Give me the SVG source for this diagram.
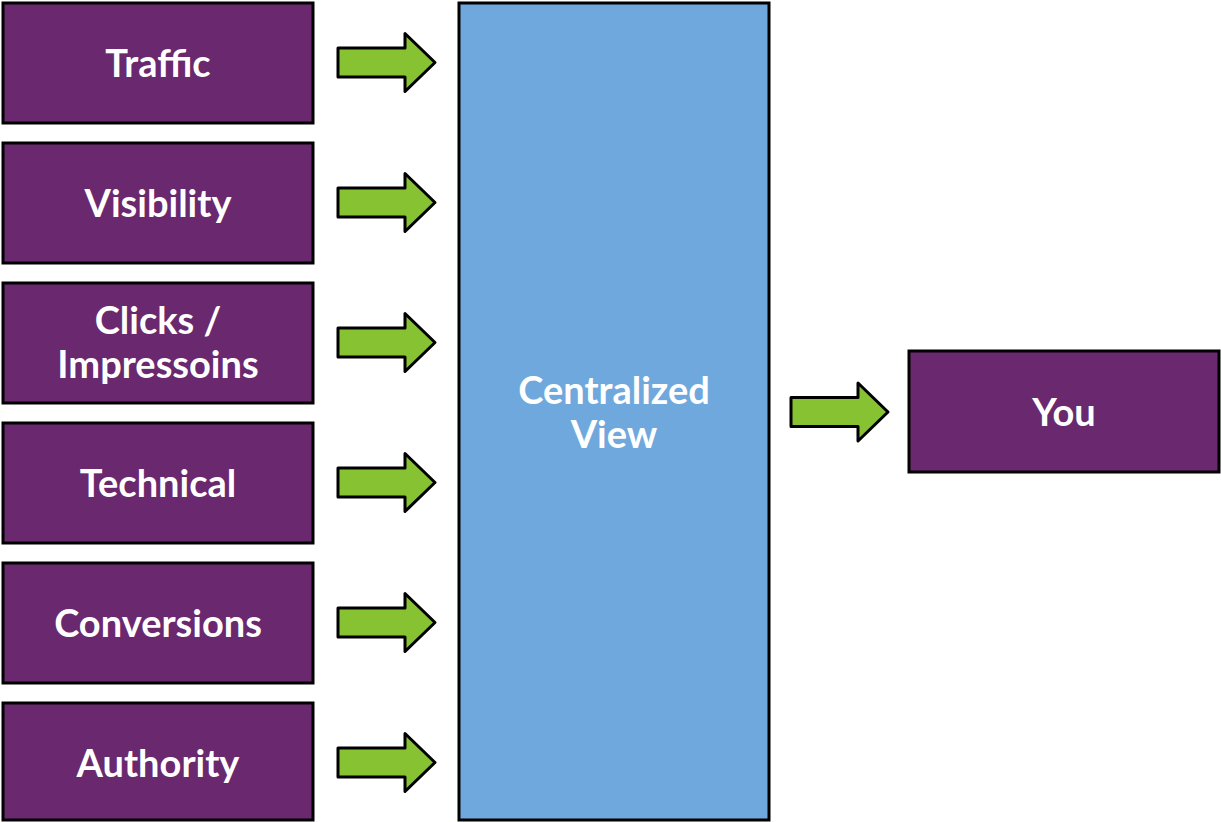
<svg xmlns="http://www.w3.org/2000/svg" width="1221" height="822" viewBox="0 0 1221 822">
<defs>
<style>
.box{fill:#6A286E;stroke:#000;stroke-width:3}
.central{fill:#6FA8DC;stroke:#000;stroke-width:3}
.lbl{fill:#fff;font-family:Lato,"Open Sans","Noto Sans",sans-serif;font-weight:bold;font-size:38px;text-anchor:middle}
.arr{fill:#86C232;stroke:#000;stroke-width:3;stroke-linejoin:round}
</style>
<path id="arrow" d="M0,-14.5 H67 V-29 L97,0 L67,29 V14.5 H0 Z"/>
</defs>
<rect width="1221" height="822" fill="#fff"/>
<g id="traffic"><rect class="box" x="3" y="3" width="310" height="120"/><text class="lbl" x="158" y="77">Traffic</text></g>
<g id="visibility"><rect class="box" x="3" y="143" width="310" height="120"/><text class="lbl" x="158" y="217">Visibility</text></g>
<g id="clicks"><rect class="box" x="3" y="283" width="310" height="120"/><text class="lbl" x="158" y="334">Clicks /</text><text class="lbl" x="158" y="378">Impressoins</text></g>
<g id="technical"><rect class="box" x="3" y="423" width="310" height="120"/><text class="lbl" x="158" y="497">Technical</text></g>
<g id="conversions"><rect class="box" x="3" y="563" width="310" height="120"/><text class="lbl" x="158" y="637">Conversions</text></g>
<g id="authority"><rect class="box" x="3" y="703" width="310" height="117"/><text class="lbl" x="158" y="777">Authority</text></g>
<g id="centralized"><rect class="central" x="459" y="3" width="310" height="817"/><text class="lbl" x="614" y="404">Centralized</text><text class="lbl" x="614" y="448">View</text></g>
<g id="you"><rect class="box" x="909" y="351" width="310" height="121"/><text class="lbl" x="1064" y="426">You</text></g>
<g id="connectors">
<use href="#arrow" class="arr" x="338" y="62.5"/>
<use href="#arrow" class="arr" x="338" y="202.5"/>
<use href="#arrow" class="arr" x="338" y="342.5"/>
<use href="#arrow" class="arr" x="338" y="482.5"/>
<use href="#arrow" class="arr" x="338" y="622.5"/>
<use href="#arrow" class="arr" x="338" y="762.5"/>
<use href="#arrow" class="arr" x="791" y="412"/>
</g>
</svg>
